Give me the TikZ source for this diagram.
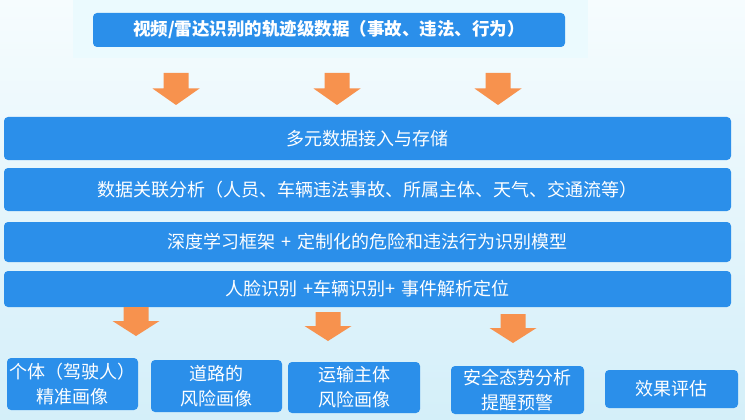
\documentclass[tikz,border=0pt]{standalone}
\usepackage{fontspec}
\setmainfont{Noto Sans CJK SC}
\usetikzlibrary{positioning}
\definecolor{boxblue}{HTML}{2B8FEA}
\definecolor{arrorange}{HTML}{F7924E}
\definecolor{bgtop}{HTML}{F6FCFE}
\definecolor{bgbot}{HTML}{D4EFF9}
\definecolor{bandcol}{HTML}{EBFAFE}
\begin{document}
\begin{tikzpicture}[x=1pt,y=-1pt,
  bluebox/.style={fill=boxblue, rounded corners=4pt, text=white, inner sep=0pt,
    font=\fontsize{18}{25}\selectfont, align=center},
  downarr/.pic={\fill[arrorange] (-12.5,0) -- (12.5,0) -- (12.5,#1) -- (23.5,#1) -- (0,2*#1+1) -- (-23.5,#1) -- (-12.5,#1) -- cycle;},
]
\useasboundingbox (0,0) rectangle (745,420);
\shade[top color=bgtop, bottom color=bgbot] (0,0) rectangle (745,420);
\fill[bandcol] (73,0) rectangle (588,58);

% top box
\node[bluebox, minimum width=472pt, minimum height=34pt, font=\fontsize{17.5}{24}\selectfont\bfseries] (src) at (329,30) {视频/雷达识别的轨迹级数据（事故、违法、行为）};

% top arrows
\pic (ta1) at (176,73) {downarr=15.5};
\pic (ta2) at (337,73) {downarr=15.5};
\pic (ta3) at (498,73) {downarr=15.5};

% bars
\node[bluebox, minimum width=727pt, minimum height=43pt] (bar1) at (367.5,138.5) {多元数据接入与存储};
\node[bluebox, minimum width=727pt, minimum height=43pt] (bar2) at (367.5,189.5) {数据关联分析（人员、车辆违法事故、所属主体、天气、交通流等）};
\node[bluebox, minimum width=727pt, minimum height=40pt] (bar3) at (367.5,242) {深度学习框架\hspace{0.35em}+\hspace{0.35em}定制化的危险和违法行为识别模型};
\node[bluebox, minimum width=727pt, minimum height=36pt] (bar4) at (367.5,289) {人脸识别\hspace{0.35em}+车辆识别+\hspace{0.35em}事件解析定位};

% bottom arrows
\pic (ba1) at (136,307) {downarr=14};
\pic (ba2) at (328,312) {downarr=14};
\pic (ba3) at (513,314) {downarr=14};

% bottom boxes
\node[bluebox, minimum width=131pt, minimum height=52pt] (p1) at (72.5,384) {个体（驾驶人）\\精准画像};
\node[bluebox, minimum width=131pt, minimum height=52pt] (p2) at (216.5,386) {道路的\\风险画像};
\node[bluebox, minimum width=132pt, minimum height=51pt] (p3) at (354,387.5) {运输主体\\风险画像};
\node[bluebox, minimum width=133pt, minimum height=48pt] (p4) at (517.5,390) {安全态势分析\\提醒预警};
\node[bluebox, minimum width=133pt, minimum height=38pt] (p5) at (671.5,389) {效果评估};
\end{tikzpicture}
\end{document}
